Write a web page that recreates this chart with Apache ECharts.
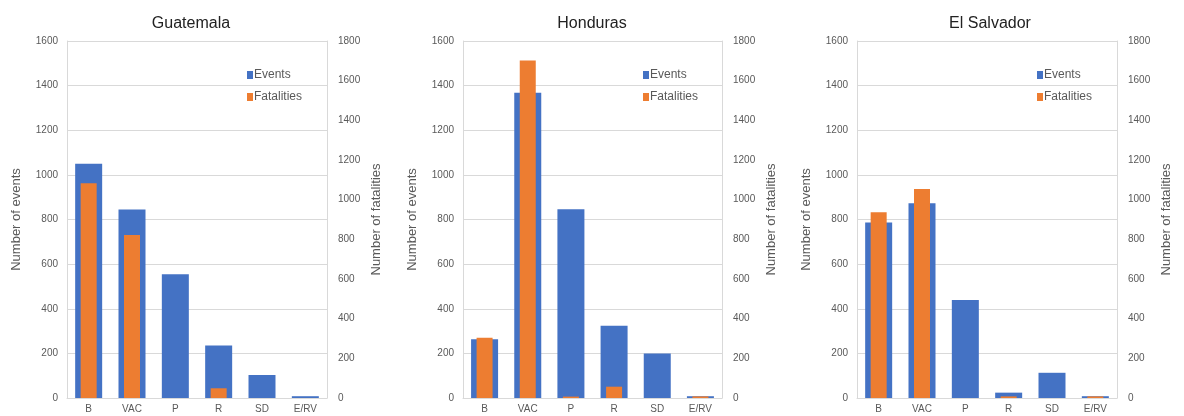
<!DOCTYPE html>
<html>
<head>
<meta charset="utf-8">
<script src="https://cdn.jsdelivr.net/npm/echarts@6/dist/echarts.min.js"></script>
<style>
  html, body { margin: 0; padding: 0; background: #fff; }
  #chart { width: 1184px; height: 416px; }
</style>
</head>
<body>
<div id="chart"></div>
<script>
// categories shared by all panels
const categories = ['B', 'VAC', 'P', 'R', 'SD', 'E/RV'];
const countries = ['Guatemala', 'Honduras', 'El Salvador'];

// events (left axis)
const guatemalaEvents = [1050, 845, 555, 235, 103, 8];
const hondurasEvents = [263, 1368, 846, 324, 200, 8];
const elSalvadorEvents = [786, 873, 439, 24, 113, 8];

// fatalities (right axis)
const guatemalaFatalities = [1083, 822, 0, 49, 0, 0];
const hondurasFatalities = [304, 1702, 7, 57, 0, 8];
const elSalvadorFatalities = [936, 1054, 0, 8, 0, 8];

const eventsTicks = { min: 0, max: 1600, interval: 200 };
const fatalitiesTicks = { min: 0, max: 1800, interval: 200 };

const events = [guatemalaEvents, hondurasEvents, elSalvadorEvents];
const fatalities = [guatemalaFatalities, hondurasFatalities, elSalvadorFatalities];

// layout of each panel (plot area)
const panels = [
  { left: 67, width: 260 },
  { left: 463, width: 259 },
  { left: 857, width: 260 }
];
const titleX = [186, 587, 985];

const blue = '#4472C4';
const orange = '#ED7D31';
const font = 'Liberation Sans, Arial, sans-serif';

let chart = echarts.init(document.getElementById('chart'));

let grid = [], xAxis = [], yAxis = [], series = [], title = [], legend = [];

panels.forEach((p, i) => {
  grid.push({ left: p.left, width: p.width, top: 41, bottom: 18 });

  title.push({
    text: countries[i],
    left: titleX[i],
    top: 11,
    textAlign: 'center',
    textStyle: { fontFamily: font, fontSize: 16, fontWeight: 'normal', color: '#222' }
  });

  legend.push({
    data: ['Events', 'Fatalities'],
    orient: 'vertical',
    left: p.left + 175,
    top: 64,
    itemWidth: 6,
    itemHeight: 8,
    itemGap: 10,
    icon: 'rect',
    selectedMode: false,
    textStyle: { fontFamily: font, fontSize: 12, color: '#595959', padding: [0, 0, 0, -4] }
  });

  // visible category axis (events)
  xAxis.push({
    type: 'category',
    gridIndex: i,
    data: categories,
    axisLine: { lineStyle: { color: '#d9d9d9' } },
    axisTick: { show: false },
    axisLabel: { fontFamily: font, fontSize: 10, color: '#595959', margin: 6, interval: 0 }
  });
  // hidden twin axis so fatalities bars sit centred on events bars
  xAxis.push({
    type: 'category',
    gridIndex: i,
    data: categories,
    show: false
  });

  yAxis.push({
    type: 'value',
    gridIndex: i,
    position: 'left',
    ...eventsTicks,
    name: 'Number of events',
    nameLocation: 'middle',
    nameRotate: 90,
    nameGap: 44,
    nameTextStyle: { fontFamily: font, fontSize: 13, color: '#595959' },
    axisLine: { show: true, lineStyle: { color: '#d9d9d9' } },
    axisTick: { show: false },
    axisLabel: { fontFamily: font, fontSize: 10, color: '#595959', margin: 9, formatter: v => String(v) },
    splitLine: { lineStyle: { color: '#d9d9d9' } }
  });
  yAxis.push({
    type: 'value',
    gridIndex: i,
    position: 'right',
    ...fatalitiesTicks,
    name: 'Number of fatalities',
    nameLocation: 'middle',
    nameRotate: 90,
    nameGap: 43,
    nameTextStyle: { fontFamily: font, fontSize: 13, color: '#595959' },
    axisLine: { show: true, lineStyle: { color: '#d9d9d9' } },
    axisTick: { show: false },
    axisLabel: { fontFamily: font, fontSize: 10, color: '#595959', margin: 11, formatter: v => String(v) },
    splitLine: { show: false }
  });

  series.push({
    name: 'Events',
    type: 'bar',
    xAxisIndex: i * 2,
    yAxisIndex: i * 2,
    barWidth: 27,
    itemStyle: { color: blue },
    data: events[i]
  });
  series.push({
    name: 'Fatalities',
    type: 'bar',
    xAxisIndex: i * 2 + 1,
    yAxisIndex: i * 2 + 1,
    barWidth: 16,
    itemStyle: { color: orange },
    data: fatalities[i]
  });
});

let option = {
  animation: false,
  backgroundColor: '#fff',
  title: title,
  legend: legend,
  grid: grid,
  xAxis: xAxis,
  yAxis: yAxis,
  series: series
};

chart.setOption(option);
</script>
</body>
</html>
